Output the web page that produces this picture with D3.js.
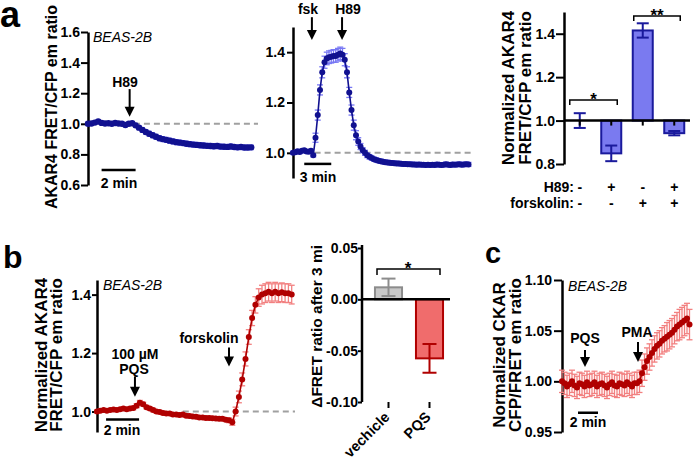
<!DOCTYPE html>
<html><head><meta charset="utf-8">
<script src="https://cdn.jsdelivr.net/npm/d3@7"></script>
<style>
body{margin:0;background:#fff}
svg{font-family:"Liberation Sans",Arial,Helvetica,sans-serif;}
</style></head><body>
<svg id="c" width="693" height="460"></svg>
<script>
// ---------------- DATA ----------------
// panel a (left): AKAR4 trace, H89 ; sampling interval 0.2 min
const a1Step = 0.2;
const a1Values = [1.000,1.002,1.008,1.015,1.006,1.002,1.004,1.000,1.005,1.002,
  1.000,0.992,1.000,1.004,0.990,0.975,0.960,0.946,0.935,0.925,
  0.915,0.906,0.900,0.895,0.890,0.885,0.880,0.877,0.874,0.870,
  0.867,0.864,0.862,0.860,0.858,0.856,0.855,0.853,0.855,0.851,
  0.850,0.849,0.852,0.848,0.846,0.848,0.845,0.845,0.846];
const a1Err = [0.010,0.010,0.010,0.011,0.010,0.010,0.010,0.010,0.010,0.010,
  0.010,0.010,0.010,0.010,0.012,0.013,0.014,0.015,0.016,0.016,
  0.016,0.016,0.016,0.016,0.016,0.016,0.016,0.016,0.016,0.016,
  0.016,0.016,0.016,0.016,0.016,0.016,0.016,0.016,0.016,0.016,
  0.015,0.015,0.015,0.015,0.015,0.015,0.015,0.015,0.015];
// panel a (middle): fsk then H89 ; interval 0.25 min
const a2Step = 0.25;
const a2Values = [1.000,1.002,1.006,1.003,1.008,1.010,1.005,1.004,1.008,0.990,
  1.060,1.150,1.250,1.320,1.360,1.375,1.380,1.382,1.385,1.385,
  1.390,1.395,1.390,1.370,1.320,1.240,1.170,1.110,1.070,1.045,
  1.025,1.010,1.000,0.990,0.984,0.979,0.975,0.972,0.969,0.967,
  0.965,0.963,0.962,0.961,0.960,0.959,0.958,0.958,0.957,0.956,
  0.956,0.955,0.955,0.954,0.954,0.953,0.954,0.953,0.953,0.952,
  0.953,0.952,0.953,0.952,0.954,0.953,0.952,0.953,0.955,0.953,
  0.952,0.954,0.953,0.954,0.955,0.953,0.954,0.955,0.954];
const a2Err = [0.006,0.006,0.006,0.006,0.006,0.006,0.006,0.006,0.006,0.006,
  0.018,0.020,0.020,0.022,0.024,0.025,0.025,0.025,0.025,0.025,
  0.025,0.025,0.025,0.024,0.022,0.020,0.020,0.020,0.018,0.015,
  0.012,0.010,0.010,0.009,0.009,0.008,0.008,0.008,0.008,0.008,
  0.008,0.008,0.008,0.008,0.008,0.008,0.008,0.008,0.008,0.008,
  0.008,0.008,0.008,0.008,0.008,0.008,0.008,0.008,0.008,0.008,
  0.008,0.008,0.008,0.008,0.008,0.008,0.008,0.008,0.008,0.008,
  0.008,0.008,0.008,0.008,0.008,0.008,0.008,0.008,0.008];
// panel a (right): bar summary
const a3Groups = ["ctrl","H89","fsk","fsk+H89"];
const a3Values = [1.000,0.849,1.415,0.942];
const a3Err = [0.034,0.036,0.033,0.010];
const a3H89 = ["-","+","-","+"];
const a3Fsk = ["-","-","+","+"];
const a3Ticks = [0.8,1.0,1.2,1.4];
// panel b (left): PQS then forskolin ; interval 0.2 min
const b1Step = 0.2;
const b1Values = [1.000,1.003,1.005,1.003,1.005,1.007,1.005,1.008,1.010,1.008,
  1.010,1.012,1.020,1.030,1.025,1.015,1.010,1.005,1.000,0.998,
  0.995,0.993,0.993,0.990,0.990,0.988,0.990,0.986,0.985,0.983,
  0.982,0.980,0.980,0.978,0.978,0.977,0.976,0.975,0.975,0.972,
  0.970,0.963,1.000,1.050,1.110,1.180,1.255,1.320,1.365,1.390,
  1.400,1.405,1.410,1.405,1.410,1.405,1.408,1.405,1.405,1.400];
const b1Err = [0.005,0.005,0.005,0.005,0.005,0.005,0.005,0.005,0.005,0.005,
  0.005,0.006,0.007,0.008,0.007,0.006,0.006,0.006,0.006,0.006,
  0.006,0.006,0.006,0.006,0.006,0.006,0.006,0.006,0.006,0.006,
  0.006,0.006,0.006,0.006,0.006,0.006,0.006,0.006,0.006,0.006,
  0.008,0.010,0.015,0.020,0.022,0.024,0.025,0.026,0.028,0.030,
  0.032,0.032,0.032,0.032,0.032,0.032,0.032,0.032,0.032,0.032];
// panel b (right): bar summary
const b2Cats = ["vechicle","PQS"];
const b2Values = [0.0117,-0.0575];
const b2Err = [0.0085,0.014];
const b2Ticks = [0.05,0.00,-0.05,-0.10];
// panel c: CKAR, PQS then PMA ; interval 0.25 min
const cStep = 0.25;
const cValues = [1.000,0.998,0.995,0.997,1.000,0.996,0.994,0.998,0.997,0.995,
  0.999,0.996,0.997,0.999,0.995,0.997,0.998,0.996,0.994,0.997,
  0.999,0.996,0.995,0.998,0.997,0.996,0.999,0.997,0.995,0.998,
  0.998,1.000,1.008,1.014,1.020,1.024,1.028,1.032,1.035,1.037,
  1.040,1.042,1.044,1.046,1.048,1.051,1.054,1.056,1.058,1.060,
  1.062,1.056];
const cErr = [0.011,0.011,0.011,0.011,0.011,0.011,0.011,0.011,0.011,0.011,
  0.011,0.011,0.011,0.011,0.011,0.011,0.011,0.011,0.011,0.011,
  0.011,0.011,0.011,0.011,0.011,0.011,0.011,0.011,0.011,0.011,
  0.011,0.011,0.013,0.013,0.013,0.013,0.013,0.013,0.013,0.013,
  0.013,0.013,0.014,0.014,0.014,0.014,0.014,0.015,0.015,0.015,
  0.015,0.015];

// ---------------- DRAWING ----------------
const svg = d3.select("#c");
const BLUE = "#111190", LBLUE = "#7878f4", RED = "#b00000", LRED = "#f28080";
const fmt = f => (d => d3.format(f)(d).replace("\u2212","-"));

function styleAxis(g){
  g.select(".domain").attr("stroke","#000").attr("stroke-width",2.5);
  g.selectAll(".tick line").attr("stroke","#000").attr("stroke-width",2);
  g.selectAll(".tick text").attr("font-size",14).attr("font-weight","bold").attr("fill","#000");
}
function txt(x,y,s,o={}){
  const t = svg.append("text").attr("x",x).attr("y",y).text(s)
    .attr("font-size",o.size||14).attr("font-weight",o.weight||"bold")
    .attr("text-anchor",o.anchor||"middle").attr("fill","#000");
  if(o.italic) t.attr("font-style","italic");
  return t;
}
function rotLabel(x,y,lines,size,gap){
  lines.forEach((s,i)=>{
    svg.append("text").attr("transform",`translate(${x+i*gap},${y}) rotate(-90)`)
      .attr("text-anchor","middle").attr("font-size",size).attr("font-weight","bold").text(s);
  });
}
function arrow(x,y1,y2){
  svg.append("line").attr("x1",x).attr("x2",x).attr("y1",y1).attr("y2",y2-8).attr("stroke","#000").attr("stroke-width",2);
  svg.append("path").attr("d",`M${x-5},${y2-10}L${x+5},${y2-10}L${x},${y2}Z`).attr("fill","#000");
}
function scaleBar(x1,x2,y){
  svg.append("line").attr("x1",x1).attr("x2",x2).attr("y1",y).attr("y2",y).attr("stroke","#000").attr("stroke-width",2.5);
}

function trace(p){
  const x = d3.scaleLinear().domain([0,1]).range([p.x0, p.x0+p.ppm]);
  const y = d3.scaleLinear().domain(p.yDomain).range(p.yRange);
  const g = svg.append("g");
  const ax = g.append("g").attr("transform",`translate(${p.x0},0)`)
    .call(d3.axisLeft(y).tickValues(p.ticks).tickFormat(fmt(p.fmt)).tickSize(p.tick).tickSizeOuter(0).tickPadding(p.pad));
  styleAxis(ax);
  g.append("line").attr("x1",x(p.dash[0])).attr("x2",x(p.dash[1])).attr("y1",y(1)).attr("y2",y(1))
    .attr("stroke","#a0a0a0").attr("stroke-width",2).attr("stroke-dasharray","6,4");
  const pts = p.values.map((v,i)=>({t:i*p.step, v, e:(p.err[i]!==undefined?p.err[i]:p.err[p.err.length-1])}));
  const eg = g.append("g").attr("stroke",p.errColor).attr("stroke-width",1.3);
  pts.forEach(d=>{
    eg.append("line").attr("x1",x(d.t)).attr("x2",x(d.t)).attr("y1",y(d.v-d.e)).attr("y2",y(d.v+d.e));
    [d.v-d.e,d.v+d.e].forEach(yy=>eg.append("line").attr("x1",x(d.t)-p.cap).attr("x2",x(d.t)+p.cap).attr("y1",y(yy)).attr("y2",y(yy)));
  });
  g.append("path").datum(pts).attr("d",d3.line().x(d=>x(d.t)).y(d=>y(d.v)))
    .attr("fill","none").attr("stroke",p.color).attr("stroke-width",1.6);
  g.append("g").selectAll("circle").data(pts).join("circle")
    .attr("cx",d=>x(d.t)).attr("cy",d=>y(d.v)).attr("r",p.r).attr("fill",p.color);
  return {x,y};
}

// ---- Panel a, left
txt(0,27,"a",{size:36,anchor:"start"});
const A1 = trace({values:a1Values, err:a1Err, step:a1Step, x0:88, ppm:17, yDomain:[0.6,1.6], yRange:[185,32],
  ticks:[0.6,0.8,1.0,1.2,1.4,1.6], fmt:".1f", tick:7, pad:1, dash:[2.7,10], color:BLUE, errColor:LBLUE, r:3.2, cap:2.5});
rotLabel(57,107,["AKAR4 FRET/CFP em ratio"],16,0);
txt(93,42,"BEAS-2B",{weight:"normal",italic:true,anchor:"start"});
txt(125,87,"H89");
arrow(A1.x(2.45),A1.y(1.227),A1.y(1.046));
scaleBar(A1.x(0.8),A1.x(2.8),A1.y(0.698));
txt(119,188,"2 min");

// ---- Panel a, middle
const A2 = trace({values:a2Values, err:a2Err, step:a2Step, x0:293, ppm:9, yDomain:[0.9,1.5], yRange:[178,27],
  ticks:[1.0,1.2,1.4], fmt:".1f", tick:6, pad:2, dash:[2.4,20], color:BLUE, errColor:LBLUE, r:3, cap:3});
txt(308,14,"fsk");
txt(348,14,"H89");
arrow(A2.x(2.1),A2.y(1.539),A2.y(1.448));
arrow(A2.x(5.45),A2.y(1.539),A2.y(1.448));
scaleBar(A2.x(1.25),A2.x(4.25),A2.y(0.956));
txt(318,182,"3 min");

// ---- Panel a, right (bars)
const a3x = d3.scaleBand().domain(a3Groups).range([564,690]).paddingInner(0.365).paddingOuter(0.1825);
const a3y = d3.scaleLinear().domain([0.8,1.5]).range([164,12]);
const a3ax = svg.append("g").attr("transform","translate(564,0)")
  .call(d3.axisLeft(a3y).tickValues(a3Ticks).tickFormat(fmt(".1f")).tickSize(8).tickSizeOuter(0).tickPadding(1));
styleAxis(a3ax);
a3Groups.forEach((gname,i)=>{
  const v=a3Values[i], e=a3Err[i], cx=a3x(gname)+a3x.bandwidth()/2;
  svg.append("rect").attr("x",a3x(gname)).attr("width",a3x.bandwidth())
    .attr("y",Math.min(a3y(1),a3y(v))).attr("height",Math.abs(a3y(1)-a3y(v)))
    .attr("fill","#7a7af0").attr("stroke","#1a1a9c").attr("stroke-width",2);
  const eg=svg.append("g").attr("stroke","#1a1a9c").attr("stroke-width",2);
  eg.append("line").attr("x1",cx).attr("x2",cx).attr("y1",a3y(v-e)).attr("y2",a3y(v+e));
  [v-e,v+e].forEach(yy=>eg.append("line").attr("x1",cx-6).attr("x2",cx+6).attr("y1",a3y(yy)).attr("y2",a3y(yy)));
  svg.append("line").attr("x1",cx).attr("x2",cx).attr("y1",a3y(1)).attr("y2",a3y(1)+5).attr("stroke","#000").attr("stroke-width",2);
  txt(cx,192,a3H89[i],{size:14});
  txt(cx,208,a3Fsk[i],{size:14});
});
svg.append("line").attr("x1",564).attr("x2",690).attr("y1",a3y(1)).attr("y2",a3y(1)).attr("stroke","#000").attr("stroke-width",2.5);
txt(574,192,"H89:",{anchor:"end"});
txt(574,208,"forskolin:",{anchor:"end"});
rotLabel(514,88,["Normalized AKAR4","FRET/CFP em ratio"],17,17);
function bracket(x1,x2,y,stars){
  svg.append("path").attr("d",`M${x1},${y+5}V${y}H${x2}V${y+5}`).attr("fill","none").attr("stroke","#000").attr("stroke-width",1.5);
  txt((x1+x2)/2,y+5,stars,{size:17});
}
bracket(a3x("ctrl")-10+a3x.bandwidth()/2, a3x("H89")+a3x.bandwidth()/2+6, 100, "*");
bracket(a3x("fsk")-9+a3x.bandwidth()/2, a3x("fsk+H89")+a3x.bandwidth()/2+6, 16, "**");

// ---- Panel b, left
txt(3,268,"b",{size:32,anchor:"start"});
const B1 = trace({values:b1Values, err:b1Err, step:b1Step, x0:97, ppm:16.5, yDomain:[0.93,1.45], yRange:[432,280],
  ticks:[1.0,1.2,1.4], fmt:".1f", tick:5, pad:1, dash:[5.2,12], color:RED, errColor:LRED, r:3, cap:3});
rotLabel(47,355,["Normalized AKAR4","FRET/CFP em ratio"],17,15);
txt(103,290,"BEAS-2B",{weight:"normal",italic:true,anchor:"start"});
txt(135,359,"100 µM");
txt(134,374,"PQS");
arrow(B1.x(2.3),B1.y(1.12),B1.y(1.051));
txt(209,343,"forskolin");
arrow(B1.x(8.0),B1.y(1.219),B1.y(1.154));
scaleBar(B1.x(0.55),B1.x(2.55),B1.y(0.973));
txt(122,435,"2 min");

// ---- Panel b, right (bars)
const b2x = d3.scaleBand().domain(b2Cats).range([368,450]).paddingInner(0.34).paddingOuter(0.17);
const b2y = d3.scaleLinear().domain([-0.10,0.05]).range([402,248]);
const b2ax = svg.append("g").attr("transform","translate(362,0)")
  .call(d3.axisLeft(b2y).tickValues(b2Ticks).tickFormat(fmt(".2f")).tickSize(4).tickSizeOuter(0).tickPadding(0));
styleAxis(b2ax);
b2ax.select(".domain").attr("d","M0,402V245");
const b2Fill=["#c8c8c8","#f06c6c"], b2Stroke=["#8c8c8c","#b00000"];
b2Cats.forEach((c,i)=>{
  const v=b2Values[i], e=b2Err[i], cx=b2x(c)+b2x.bandwidth()/2;
  svg.append("rect").attr("x",b2x(c)).attr("width",b2x.bandwidth())
    .attr("y",Math.min(b2y(0),b2y(v))).attr("height",Math.abs(b2y(0)-b2y(v)))
    .attr("fill",b2Fill[i]).attr("stroke",b2Stroke[i]).attr("stroke-width",2);
  const eg=svg.append("g").attr("stroke",b2Stroke[i]).attr("stroke-width",2);
  eg.append("line").attr("x1",cx).attr("x2",cx).attr("y1",b2y(v-e)).attr("y2",b2y(v+e));
  [v-e,v+e].forEach(yy=>eg.append("line").attr("x1",cx-7).attr("x2",cx+7).attr("y1",b2y(yy)).attr("y2",b2y(yy)));
  svg.append("line").attr("x1",cx).attr("x2",cx).attr("y1",402).attr("y2",408).attr("stroke","#000").attr("stroke-width",2);
  svg.append("text").attr("transform",`translate(${cx+2},418) rotate(-45)`).attr("text-anchor","end")
    .attr("font-size",14.5).attr("font-weight","bold").text(c);
});
svg.append("line").attr("x1",362).attr("x2",450).attr("y1",b2y(0)).attr("y2",b2y(0)).attr("stroke","#000").attr("stroke-width",2.5);
svg.append("text").attr("transform","translate(322,245) rotate(-90)").attr("text-anchor","end")
  .attr("font-size",15.5).attr("font-weight","bold").text("ΔFRET ratio after 3 mi");
svg.append("path").attr("d","M377,275V269H440V275").attr("fill","none").attr("stroke","#000").attr("stroke-width",1.5);
txt(408,274,"*",{size:17});

// ---- Panel c
txt(485,263,"c",{size:29,anchor:"start"});
const C = trace({values:cValues, err:cErr, step:cStep, x0:562, ppm:10, yDomain:[0.95,1.10], yRange:[432,280],
  ticks:[0.95,1.00,1.05,1.10], fmt:".2f", tick:8, pad:2, dash:[0,0], color:RED, errColor:LRED, r:3, cap:3});
rotLabel(505,355,["Normalized CKAR","CFP/FRET em ratio"],17,16);
txt(568,291,"BEAS-2B",{weight:"normal",italic:true,anchor:"start"});
txt(585,343,"PQS");
arrow(C.x(2.3),C.y(1.0309),C.y(1.0141));
txt(637,337,"PMA");
arrow(C.x(7.6),C.y(1.0388),C.y(1.0191));
scaleBar(C.x(1.6),C.x(3.6),C.y(0.969));
txt(588,427,"2 min");
</script>
</body></html>
